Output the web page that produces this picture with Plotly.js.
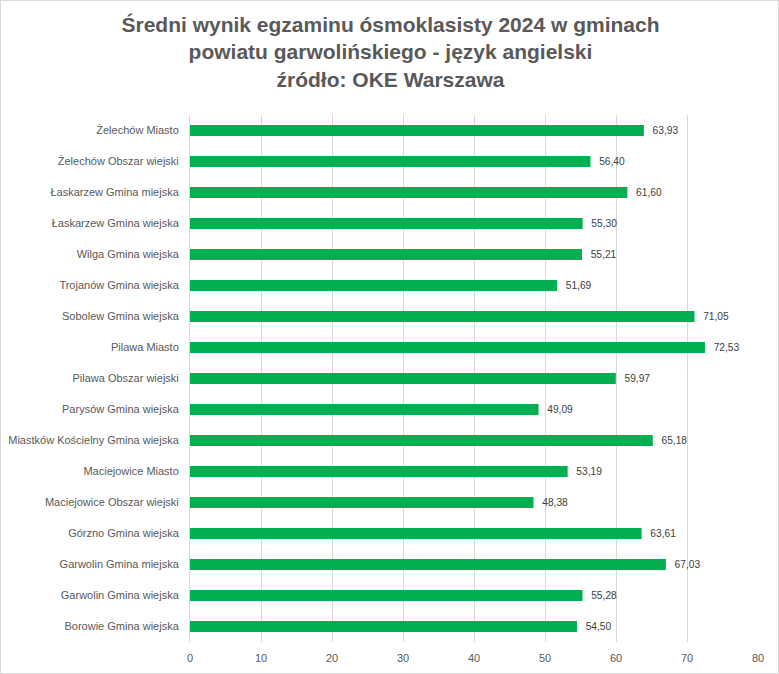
<!DOCTYPE html>
<html>
<head>
<meta charset="utf-8">
<script src="https://cdn.plot.ly/plotly-3.0.1.min.js"></script>
<style>
html,body{margin:0;padding:0;background:#fff;}
#chart{width:779px;height:674px;box-sizing:border-box;border:1px solid #d9d9d9;}
</style>
</head>
<body>
<div id="chart"></div>
<script>
const categories = [
  "Żelechów Miasto",
  "Żelechów Obszar wiejski",
  "Łaskarzew Gmina miejska",
  "Łaskarzew Gmina wiejska",
  "Wilga Gmina wiejska",
  "Trojanów Gmina wiejska",
  "Sobolew Gmina wiejska",
  "Pilawa Miasto",
  "Pilawa Obszar wiejski",
  "Parysów Gmina wiejska",
  "Miastków Kościelny Gmina wiejska",
  "Maciejowice Miasto",
  "Maciejowice Obszar wiejski",
  "Górzno Gmina wiejska",
  "Garwolin Gmina miejska",
  "Garwolin Gmina wiejska",
  "Borowie Gmina wiejska"
];
const values = [63.93, 56.40, 61.60, 55.30, 55.21, 51.69, 71.05, 72.53, 59.97, 49.09, 65.18, 53.19, 48.38, 63.61, 67.03, 55.28, 54.50];
const xTicks = [0, 10, 20, 30, 40, 50, 60, 70, 80];

const labels = values.map(v => "  " + v.toFixed(2).replace(".", ","));

const trace = {
  type: "bar",
  orientation: "h",
  x: values,
  y: categories,
  width: 0.36,
  marker: {color: "#00B050"},
  text: labels,
  textposition: "outside",
  textfont: {family: "Liberation Sans, Arial, sans-serif", size: 11, color: "#404040"},
  cliponaxis: false,
  hoverinfo: "x+y"
};

const layout = {
  width: 779,
  height: 674,
  margin: {l: 189, r: 22, t: 114, b: 33},
  paper_bgcolor: "rgba(0,0,0,0)",
  plot_bgcolor: "#ffffff",
  showlegend: false,
  title: {
    text: "<b>Średni wynik egzaminu ósmoklasisty 2024 w gminach<br>powiatu garwolińskiego - język angielski<br>źródło: OKE Warszawa</b>",
    font: {family: "Liberation Sans Narrow, Arial Narrow, sans-serif", size: 21, color: "#595959"},
    x: 0.5,
    xanchor: "center",
    xref: "container",
    yref: "container",
    y: 1 - 31/674,
    yanchor: "top"
  },
  xaxis: {
    range: [0, 80],
    tickvals: xTicks,
    ticktext: xTicks.map(String),
    showgrid: true,
    gridcolor: "#d9d9d9",
    gridwidth: 1,
    zeroline: false,
    showline: false,
    ticks: "",
    ticklabelstandoff: 8,
    tickfont: {family: "Liberation Sans, Arial, sans-serif", size: 11, color: "#595959"},
    fixedrange: true
  },
  yaxis: {
    type: "category",
    autorange: "reversed",
    showgrid: false,
    zeroline: false,
    showline: true,
    linecolor: "#d9d9d9",
    linewidth: 1,
    ticks: "",
    ticklabelstandoff: 8,
    tickfont: {family: "Liberation Sans, Arial, sans-serif", size: 11, color: "#595959"},
    fixedrange: true
  }
};

Plotly.newPlot("chart", [trace], layout, {displayModeBar: false, staticPlot: true});
</script>
</body>
</html>
